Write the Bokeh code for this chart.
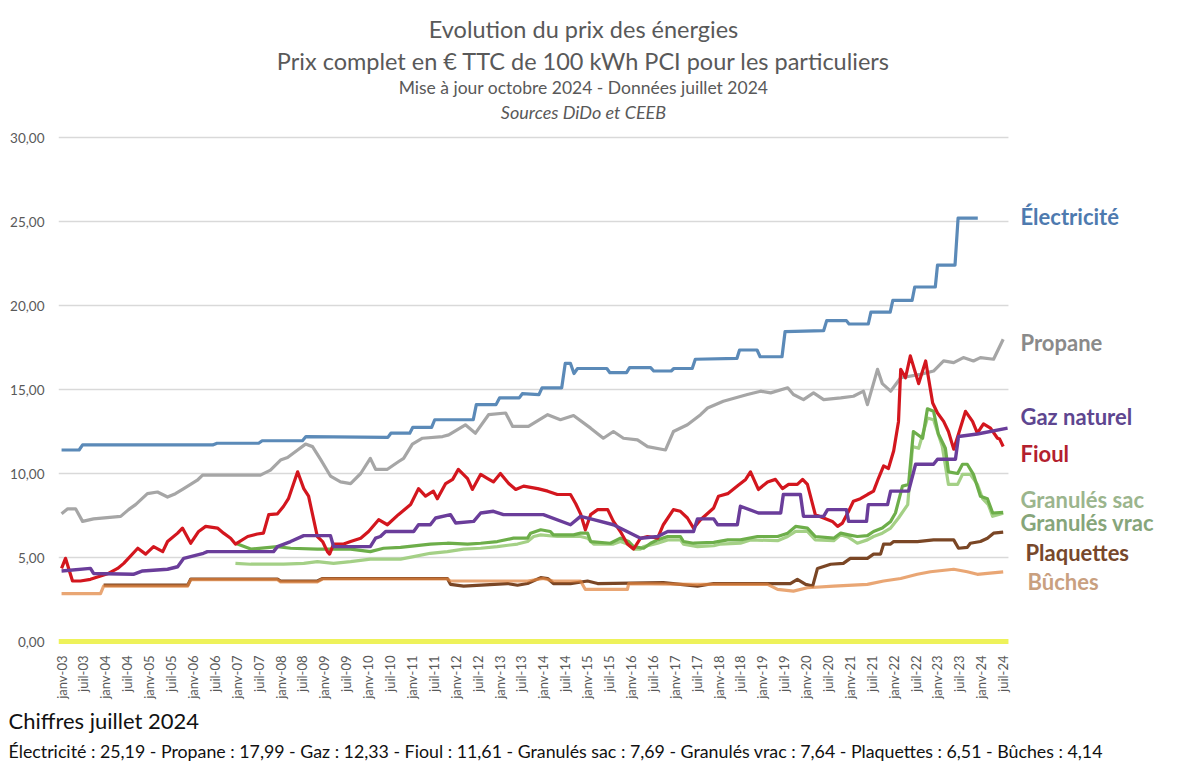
from math import pi
from bokeh.plotting import figure
from bokeh.models import Range1d, FixedTicker, Label, Title
from bokeh.embed import file_html
from bokeh.resources import INLINE

FONT = "Lato"

# ---------------- data (decimal year, € TTC / 100 kWh PCI) ----------------
tick_labels = []
for yy in range(3, 25):
    tick_labels += ["janv-%02d" % yy, "juil-%02d" % yy]

y_ticks = [0, 5, 10, 15, 20, 25, 30]
y_tick_labels = ["0,00", "5,00", "10,00", "15,00", "20,00", "25,00", "30,00"]

electricite = [(2003.0, 11.4), (2003.4, 11.4), (2003.48, 11.7), (2006.45, 11.7), (2006.55, 11.8),
               (2007.5, 11.8), (2007.58, 11.95), (2008.5, 11.95), (2008.58, 12.2), (2010.45, 12.15),
               (2010.52, 12.4), (2010.95, 12.4), (2011.02, 12.75), (2011.45, 12.75), (2011.52, 13.2),
               (2012.4, 13.2), (2012.47, 14.1), (2012.92, 14.1), (2013.0, 14.5), (2013.45, 14.5),
               (2013.52, 14.75), (2013.9, 14.7), (2013.97, 15.1), (2014.42, 15.1), (2014.5, 16.55),
               (2014.62, 16.55), (2014.7, 15.95), (2014.78, 16.25), (2015.45, 16.25), (2015.52, 16.0),
               (2015.9, 16.0), (2015.97, 16.3), (2016.45, 16.3), (2016.52, 16.1), (2016.92, 16.1),
               (2016.98, 16.25), (2017.4, 16.25), (2017.47, 16.8), (2018.42, 16.85), (2018.48, 17.35),
               (2018.88, 17.35), (2018.95, 16.95), (2019.45, 16.95), (2019.52, 18.45), (2020.4, 18.5),
               (2020.47, 19.1), (2020.92, 19.1), (2020.98, 18.9), (2021.42, 18.9), (2021.48, 19.6),
               (2021.92, 19.6), (2021.98, 20.3), (2022.42, 20.3), (2022.48, 21.1), (2022.95, 21.1),
               (2023.0, 22.4), (2023.4, 22.4), (2023.47, 25.2), (2023.92, 25.2)]

propane = [(2003.0, 7.6), (2003.14, 7.9), (2003.32, 7.9), (2003.48, 7.15), (2003.73, 7.3),
           (2004.35, 7.45), (2004.53, 7.85), (2004.69, 8.15), (2004.96, 8.8), (2005.19, 8.9),
           (2005.42, 8.6), (2005.6, 8.8), (2005.79, 9.1), (2006.1, 9.6), (2006.22, 9.9),
           (2007.54, 9.9), (2007.77, 10.2), (2008.0, 10.8), (2008.16, 10.95), (2008.39, 11.4),
           (2008.57, 11.75), (2008.73, 11.6), (2008.91, 10.85), (2009.14, 9.85), (2009.37, 9.5),
           (2009.6, 9.4), (2009.83, 10.0), (2010.05, 10.9), (2010.17, 10.25), (2010.44, 10.25),
           (2010.69, 10.7), (2010.81, 10.9), (2011.01, 11.75), (2011.24, 12.1), (2011.7, 12.2),
           (2011.84, 12.3), (2012.22, 12.9), (2012.45, 12.4), (2012.75, 13.5), (2013.14, 13.6),
           (2013.3, 12.8), (2013.66, 12.8), (2014.1, 13.5), (2014.39, 13.2), (2014.69, 13.45),
           (2015.08, 12.7), (2015.37, 12.1), (2015.6, 12.5), (2015.83, 12.1), (2016.15, 12.0),
           (2016.38, 11.6), (2016.79, 11.4), (2016.97, 12.5), (2017.29, 12.9), (2017.59, 13.5),
           (2017.75, 13.9), (2018.11, 14.3), (2018.66, 14.7), (2018.96, 14.9), (2019.19, 14.8),
           (2019.58, 15.1), (2019.71, 14.7), (2019.94, 14.4), (2020.17, 14.8), (2020.4, 14.4),
           (2020.79, 14.5), (2021.08, 14.6), (2021.31, 14.9), (2021.4, 14.1), (2021.63, 16.2),
           (2021.74, 15.35), (2021.93, 14.9), (2022.16, 15.7), (2022.61, 15.9), (2022.91, 16.1),
           (2023.14, 16.7), (2023.37, 16.6), (2023.59, 16.9), (2023.82, 16.7), (2023.98, 16.9),
           (2024.28, 16.8), (2024.5, 17.99)]

fioul = [(2003.0, 4.35), (2003.09, 4.95), (2003.25, 3.6), (2003.43, 3.6), (2003.66, 3.7),
         (2003.89, 3.9), (2004.07, 4.05), (2004.28, 4.35), (2004.42, 4.65), (2004.74, 5.55),
         (2004.92, 5.2), (2005.1, 5.65), (2005.31, 5.35), (2005.42, 5.95), (2005.65, 6.45),
         (2005.76, 6.75), (2005.95, 5.85), (2006.13, 6.55), (2006.29, 6.85), (2006.56, 6.75),
         (2006.7, 6.45), (2006.86, 6.15), (2006.97, 5.8), (2007.25, 6.25), (2007.47, 6.4),
         (2007.61, 6.45), (2007.73, 7.55), (2007.93, 7.6), (2008.07, 8.05), (2008.18, 8.5),
         (2008.39, 10.1), (2008.53, 9.1), (2008.64, 8.65), (2008.84, 6.25), (2008.96, 5.95),
         (2009.07, 5.35), (2009.12, 5.2), (2009.21, 5.8), (2009.44, 5.8), (2009.6, 5.95),
         (2009.83, 6.15), (2010.01, 6.55), (2010.24, 7.25), (2010.44, 6.95), (2010.69, 7.55),
         (2010.97, 8.15), (2011.15, 9.1), (2011.31, 8.65), (2011.49, 8.95), (2011.58, 8.5),
         (2011.77, 9.4), (2011.93, 9.65), (2012.06, 10.25), (2012.27, 9.7), (2012.38, 9.05),
         (2012.57, 9.95), (2012.73, 9.7), (2012.86, 9.5), (2013.02, 10.0), (2013.21, 9.4),
         (2013.37, 9.05), (2013.55, 9.25), (2013.87, 9.1), (2014.1, 8.95), (2014.32, 8.75),
         (2014.62, 8.75), (2014.74, 8.2), (2014.85, 7.6), (2014.96, 6.65), (2015.08, 7.55),
         (2015.24, 7.85), (2015.47, 7.85), (2015.6, 7.15), (2015.76, 6.55), (2015.92, 5.8),
         (2016.06, 5.5), (2016.22, 6.15), (2016.38, 6.25), (2016.61, 6.15), (2016.74, 6.95),
         (2016.97, 7.85), (2017.13, 7.75), (2017.29, 7.35), (2017.43, 6.75), (2017.59, 7.25),
         (2017.89, 7.95), (2018.0, 8.65), (2018.21, 8.8), (2018.43, 9.25), (2018.62, 9.65),
         (2018.73, 10.1), (2018.91, 9.05), (2019.12, 9.5), (2019.3, 9.65), (2019.46, 9.1),
         (2019.6, 9.35), (2019.8, 9.35), (2019.92, 9.65), (2020.03, 9.35), (2020.21, 7.55),
         (2020.4, 7.35), (2020.6, 7.15), (2020.72, 6.85), (2020.83, 7.05), (2020.97, 7.75),
         (2021.08, 8.35), (2021.24, 8.5), (2021.4, 8.75), (2021.54, 8.95), (2021.65, 9.7),
         (2021.77, 10.45), (2021.88, 10.3), (2022.0, 11.35), (2022.11, 13.1), (2022.16, 16.2),
         (2022.27, 15.7), (2022.38, 17.0), (2022.57, 15.35), (2022.73, 16.7), (2022.89, 14.2),
         (2023.0, 13.6), (2023.14, 13.1), (2023.25, 12.5), (2023.37, 11.45), (2023.48, 12.35),
         (2023.64, 13.7), (2023.8, 13.1), (2023.91, 12.4), (2024.05, 12.95), (2024.21, 12.7),
         (2024.37, 12.1), (2024.42, 12.05), (2024.5, 11.61)]

gaz = [(2003.0, 4.2), (2003.66, 4.35), (2003.73, 4.05), (2004.64, 4.0), (2004.85, 4.2),
       (2005.42, 4.3), (2005.65, 4.45), (2005.79, 4.95), (2006.24, 5.25), (2006.33, 5.35),
       (2007.84, 5.35), (2007.93, 5.65), (2008.23, 5.95), (2008.53, 6.3), (2009.14, 6.3),
       (2009.21, 5.65), (2010.05, 5.65), (2010.17, 6.15), (2010.28, 6.25), (2010.4, 6.55),
       (2011.04, 6.55), (2011.15, 6.95), (2011.42, 6.95), (2011.54, 7.35), (2011.88, 7.55),
       (2012.0, 7.05), (2012.41, 7.15), (2012.57, 7.65), (2012.86, 7.75), (2013.09, 7.55),
       (2014.0, 7.55), (2014.62, 6.95), (2014.85, 7.45), (2015.15, 7.25), (2015.6, 6.95),
       (2016.22, 6.15), (2016.61, 6.25), (2016.84, 6.55), (2017.43, 6.55), (2017.52, 7.3),
       (2017.89, 7.3), (2017.98, 6.95), (2018.43, 6.95), (2018.5, 8.05), (2018.91, 7.65),
       (2019.42, 7.65), (2019.48, 8.75), (2019.87, 8.75), (2019.94, 7.45), (2020.4, 7.45),
       (2020.49, 7.85), (2020.92, 7.85), (2020.97, 7.15), (2021.38, 7.15), (2021.42, 8.15),
       (2021.86, 8.15), (2021.93, 8.95), (2022.34, 8.95), (2022.5, 10.55), (2022.91, 10.55),
       (2023.0, 10.85), (2023.41, 10.85), (2023.48, 12.2), (2023.91, 12.35), (2024.6, 12.7)]

granules_sac = [(2006.97, 5.85), (2007.32, 5.5), (2007.93, 5.65), (2008.23, 5.55), (2008.84, 5.5),
                (2009.6, 5.5), (2010.05, 5.35), (2010.35, 5.55), (2010.74, 5.6), (2011.42, 5.8),
                (2011.81, 5.85), (2012.27, 5.8), (2012.57, 5.85), (2012.95, 5.95), (2013.32, 6.15),
                (2013.64, 6.15), (2013.71, 6.45), (2013.94, 6.65), (2014.16, 6.55), (2014.23, 6.35),
                (2014.69, 6.35), (2014.85, 6.45), (2015.01, 6.45), (2015.08, 5.95), (2015.53, 5.85),
                (2015.76, 6.15), (2015.95, 5.95), (2016.06, 5.65), (2016.29, 5.55), (2016.45, 5.85),
                (2016.61, 6.05), (2016.84, 6.25), (2017.13, 6.25), (2017.2, 5.95), (2017.43, 5.85),
                (2017.89, 5.9), (2018.21, 6.05), (2018.5, 6.05), (2018.89, 6.25), (2019.35, 6.25),
                (2019.58, 6.45), (2019.76, 6.85), (2020.03, 6.75), (2020.21, 6.25), (2020.63, 6.15),
                (2020.79, 6.45), (2020.97, 6.35), (2021.17, 6.25), (2021.4, 6.3), (2021.54, 6.55),
                (2021.74, 6.75), (2021.93, 7.15), (2022.04, 7.65), (2022.2, 9.25), (2022.34, 9.35),
                (2022.45, 12.5), (2022.66, 12.1), (2022.77, 13.85), (2022.91, 13.7), (2023.02, 12.35),
                (2023.18, 11.5), (2023.25, 10.1), (2023.46, 10.0), (2023.57, 10.55), (2023.68, 10.55),
                (2023.82, 9.95), (2023.98, 8.65), (2024.14, 8.5), (2024.26, 7.65), (2024.5, 7.69)]

granules_vrac = [(2006.97, 4.65), (2007.32, 4.6), (2008.07, 4.6), (2008.53, 4.65), (2008.84, 4.75),
                 (2009.21, 4.65), (2009.6, 4.75), (2010.05, 4.9), (2010.74, 4.9), (2011.04, 5.05),
                 (2011.42, 5.25), (2011.81, 5.35), (2012.18, 5.5), (2012.57, 5.55), (2012.95, 5.65),
                 (2013.41, 5.8), (2013.64, 5.95), (2013.78, 6.25), (2013.94, 6.35), (2014.32, 6.25),
                 (2014.85, 6.25), (2015.01, 6.15), (2015.15, 5.8), (2015.6, 5.8), (2015.76, 5.95),
                 (2015.92, 5.8), (2016.06, 5.5), (2016.22, 5.5), (2016.29, 5.65), (2016.61, 5.85),
                 (2016.84, 6.05), (2017.13, 6.05), (2017.2, 5.8), (2017.52, 5.65), (2017.89, 5.7),
                 (2018.05, 5.8), (2018.5, 5.85), (2018.73, 6.05), (2019.35, 6.0), (2019.58, 6.25),
                 (2019.76, 6.55), (2020.03, 6.55), (2020.21, 6.05), (2020.63, 6.0), (2020.79, 6.35),
                 (2020.97, 6.2), (2021.17, 5.85), (2021.4, 6.05), (2021.54, 6.25), (2021.74, 6.45),
                 (2021.93, 6.75), (2022.11, 7.35), (2022.32, 8.15), (2022.43, 11.6), (2022.57, 11.5),
                 (2022.77, 13.3), (2022.91, 13.2), (2023.11, 11.6), (2023.25, 9.35), (2023.46, 9.35),
                 (2023.57, 9.95), (2023.75, 9.95), (2023.91, 9.35), (2024.03, 8.5), (2024.16, 8.15),
                 (2024.26, 7.45), (2024.5, 7.64)]

plaquettes = [(2003.96, 3.35), (2005.88, 3.35), (2005.95, 3.72), (2007.93, 3.72), (2008.0, 3.6),
              (2008.84, 3.6), (2008.96, 3.75), (2011.81, 3.75), (2011.88, 3.4), (2012.18, 3.3),
              (2013.18, 3.45), (2013.41, 3.35), (2013.64, 3.45), (2013.94, 3.8), (2014.1, 3.75),
              (2014.23, 3.45), (2014.62, 3.45), (2015.01, 3.6), (2015.24, 3.45), (2016.74, 3.5),
              (2017.52, 3.3), (2017.89, 3.45), (2019.64, 3.45), (2019.8, 3.7), (2019.99, 3.4),
              (2020.15, 3.3), (2020.26, 4.35), (2020.56, 4.6), (2020.85, 4.65), (2021.01, 4.95),
              (2021.4, 4.95), (2021.54, 5.2), (2021.7, 5.2), (2021.77, 5.8), (2021.93, 5.8),
              (2022.0, 5.95), (2022.54, 5.95), (2022.91, 6.05), (2023.37, 6.05), (2023.48, 5.55),
              (2023.68, 5.6), (2023.75, 5.85), (2023.98, 5.95), (2024.14, 6.15), (2024.28, 6.45),
              (2024.5, 6.51)]

buches = [(2003.0, 2.85), (2003.89, 2.85), (2003.96, 3.3), (2005.88, 3.3), (2005.95, 3.68),
          (2007.93, 3.68), (2008.0, 3.55), (2008.84, 3.55), (2008.96, 3.72), (2011.81, 3.72),
          (2011.88, 3.6), (2013.64, 3.6), (2014.0, 3.75), (2014.23, 3.6), (2014.85, 3.6),
          (2014.96, 3.1), (2015.92, 3.1), (2015.95, 3.45), (2017.43, 3.4), (2019.12, 3.4),
          (2019.35, 3.1), (2019.71, 3.0), (2020.03, 3.2), (2020.63, 3.3), (2021.4, 3.4),
          (2021.77, 3.6), (2022.16, 3.75), (2022.54, 4.0), (2022.84, 4.15), (2023.37, 4.3),
          (2023.68, 4.15), (2023.91, 4.0), (2024.14, 4.05), (2024.5, 4.14)]

# right-hand series labels: (text, anchor value on y axis, text colour)
series_labels = [("Électricité", 25.3, "#4E7AAF"), ("Propane", 17.8, "#8A8A8A"),
                 ("Gaz naturel", 13.4, "#5E4690"), ("Fioul", 11.2, "#B3202E"),
                 ("Granulés sac", 8.45, "#9BB58D"), ("Granulés vrac", 7.08, "#86A57A"),
                 ("Plaquettes", 5.3, "#77482C"), ("Bûches", 3.57, "#C9A07F")]

X0, X1 = 2002.93, 2024.62   # extent of the value area (grid lines / zero line)

# ---------------- figure ----------------
# the frame spans the title area and the label column too, so that all texts render inside it
p = figure(width=1177, height=770, output_backend="svg", toolbar_location=None,
           x_range=Range1d(X0, 2028.48), y_range=Range1d(-0.476, 38.155),
           min_border_left=58, min_border_right=0, min_border_top=0, min_border_bottom=121,
           background_fill_color="white", border_fill_color="white", outline_line_color=None)

p.xgrid.visible = False
p.ygrid.visible = False

p.yaxis.ticker = FixedTicker(ticks=y_ticks)
p.yaxis.major_label_overrides = dict(zip(y_ticks, y_tick_labels))
p.yaxis.axis_line_color = None
p.yaxis.major_tick_line_color = None
p.yaxis.minor_tick_line_color = None
p.yaxis.major_label_standoff = 8
p.yaxis.major_label_text_font = FONT
p.yaxis.major_label_text_font_size = "13.5px"
p.yaxis.major_label_text_color = "#595959"

x_ticks = [2003 + 0.5 * i for i in range(len(tick_labels))]
p.xaxis.ticker = FixedTicker(ticks=x_ticks)
p.xaxis.major_label_overrides = dict(zip(x_ticks, tick_labels))
p.xaxis.major_label_orientation = pi / 2
p.xaxis.axis_line_color = None
p.xaxis.major_tick_line_color = None
p.xaxis.minor_tick_line_color = None
p.xaxis.major_label_standoff = 0
p.xaxis.major_label_text_font = FONT
p.xaxis.major_label_text_font_size = "13px"
p.xaxis.major_label_text_color = "#595959"

# horizontal grid lines for the value ticks
grid_vals = [v for v in y_ticks if v > 0]
p.segment(x0=[X0] * len(grid_vals), y0=grid_vals, x1=[X1] * len(grid_vals), y1=grid_vals,
          line_color="#D9D9D9", line_width=1.5)
# zero line (yellow)
p.segment(x0=[X0], y0=[0], x1=[X1], y1=[0], line_color="#EEF25A", line_width=5)


def draw(series, color, width=3.2, alpha=1.0):
    xs = [a for a, b in series]
    ys = [b for a, b in series]
    p.line(xs, ys, line_color=color, line_width=width, line_join="round", line_alpha=alpha)


draw(plaquettes, "#7A4625")
draw(buches, "#E0843F", alpha=0.72)
draw(granules_vrac, "#A4D086")
draw(granules_sac, "#6DAE4A")
draw(propane, "#A6A6A6")
draw(electricite, "#5B8AB8")
draw(fioul, "#D3161E")
draw(gaz, "#6A3D9A", 3.4)

# series labels on the right
label_x = {"Plaquettes": 967, "Bûches": 969}
for txt, yv, col in series_labels:
    p.add_layout(Label(x=label_x.get(txt, 962), y=yv, x_units="screen", y_units="data", text=txt,
                       text_font=FONT, text_font_style="bold", text_font_size="22px",
                       text_color=col, text_baseline="middle", text_align="left"))

# titles (screen units relative to frame bottom-left, frame bottom at page y=649)
titles = [("Evolution du prix des énergies", 621, "23.5px", "normal"),
          ("Prix complet en € TTC de 100 kWh PCI pour les particuliers", 589, "23.5px", "normal"),
          ("Mise à jour octobre 2024 - Données juillet 2024", 562, "17.5px", "normal"),
          ("Sources DiDo et CEEB", 538, "18px", "italic")]
for txt, yy, fs, st in titles:
    p.add_layout(Label(x=525, y=yy, x_units="screen", y_units="screen", text=txt,
                       text_font=FONT, text_font_size=fs, text_font_style=st,
                       text_color="#595959", text_align="center", text_baseline="middle"))

# bottom notes (below the x axis)
p.add_layout(Title(text="Chiffres juillet 2024", align="left", offset=-50, standoff=6,
                   text_font=FONT, text_font_size="22px", text_font_style="normal",
                   text_color="#111111"), "below")
p.add_layout(Title(text="Électricité : 25,19 - Propane : 17,99 - Gaz : 12,33 - Fioul : 11,61 - "
                        "Granulés sac : 7,69 - Granulés vrac : 7,64 - Plaquettes : 6,51 - Bûches : 4,14",
                   align="left", offset=-50, standoff=3,
                   text_font=FONT, text_font_size="17.8px", text_font_style="normal",
                   text_color="#111111"), "below")

open("out.html", "w").write(file_html(p, INLINE))
